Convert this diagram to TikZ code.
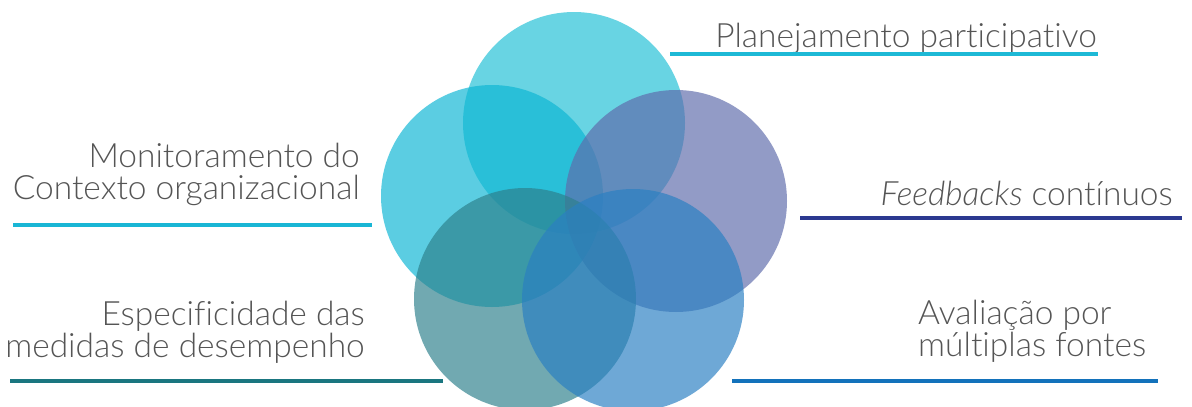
\documentclass[tikz,border=0pt]{standalone}
\usepackage{fontspec}
\setmainfont{Lato}[UprightFont={* Light},ItalicFont={* Light Italic},Ligatures=NoCommon]
\definecolor{ctop}{RGB}{33,192,213}
\definecolor{cleft}{RGB}{13,182,212}
\definecolor{cright}{RGB}{95,107,171}
\definecolor{cbl}{RGB}{45,128,140}
\definecolor{cbr}{RGB}{42,127,194}
\definecolor{linetop}{RGB}{29,185,214}
\definecolor{lineleft}{RGB}{25,182,213}
\definecolor{lineright}{RGB}{43,57,144}
\definecolor{linebl}{RGB}{26,118,128}
\definecolor{linebr}{RGB}{19,114,187}
\definecolor{txt}{RGB}{85,85,85}
\begin{document}
\begin{tikzpicture}[x=1pt,y=-1pt,
  blob/.style={circle,minimum size=222pt,inner sep=0pt,fill opacity=0.68},
  labeltext/.style={text=txt,inner sep=0pt,font=\fontsize{33.5}{32}\selectfont},
  rule/.style={line width=4pt}]
\useasboundingbox (0,0) rectangle (1192,407);
\node[blob,fill=ctop]   (top) at (574,123) {};
\node[blob,fill=cleft]  (lft) at (492,196) {};
\node[blob,fill=cright] (rgt) at (676,201) {};
\node[blob,fill=cbl]    (bl)  at (525,299) {};
\node[blob,fill=cbr]    (br)  at (633,300) {};
% labels
\node[labeltext,anchor=base east] (t1) at (1097,47) {Planejamento participativo};
\coordinate (t1a) at (670,54); \coordinate (t1b) at (1098,54);
\draw[rule,linetop] (t1a) -- (t1b);
\node[labeltext,anchor=base east,align=right] (t2) at (360,199) {Monitoramento do\\Contexto organizacional};
\coordinate (t2a) at (13,225); \coordinate (t2b) at (372,225);
\draw[rule,lineleft] (t2a) -- (t2b);
\node[labeltext,anchor=base east] (t3) at (1173,205) {\textit{Feedbacks} contínuos};
\coordinate (t3a) at (800,218); \coordinate (t3b) at (1182,218);
\draw[rule,lineright] (t3a) -- (t3b);
\node[labeltext,anchor=base east,align=right] (t4) at (365,357) {Especificidade das\\medidas de desempenho};
\coordinate (t4a) at (10,381); \coordinate (t4b) at (443,381);
\draw[rule,linebl] (t4a) -- (t4b);
\node[labeltext,anchor=base west,align=left] (t5) at (918,356) {Avaliação por\\múltiplas fontes};
\coordinate (t5a) at (732,381); \coordinate (t5b) at (1158,381);
\draw[rule,linebr] (t5a) -- (t5b);
\end{tikzpicture}
\end{document}
